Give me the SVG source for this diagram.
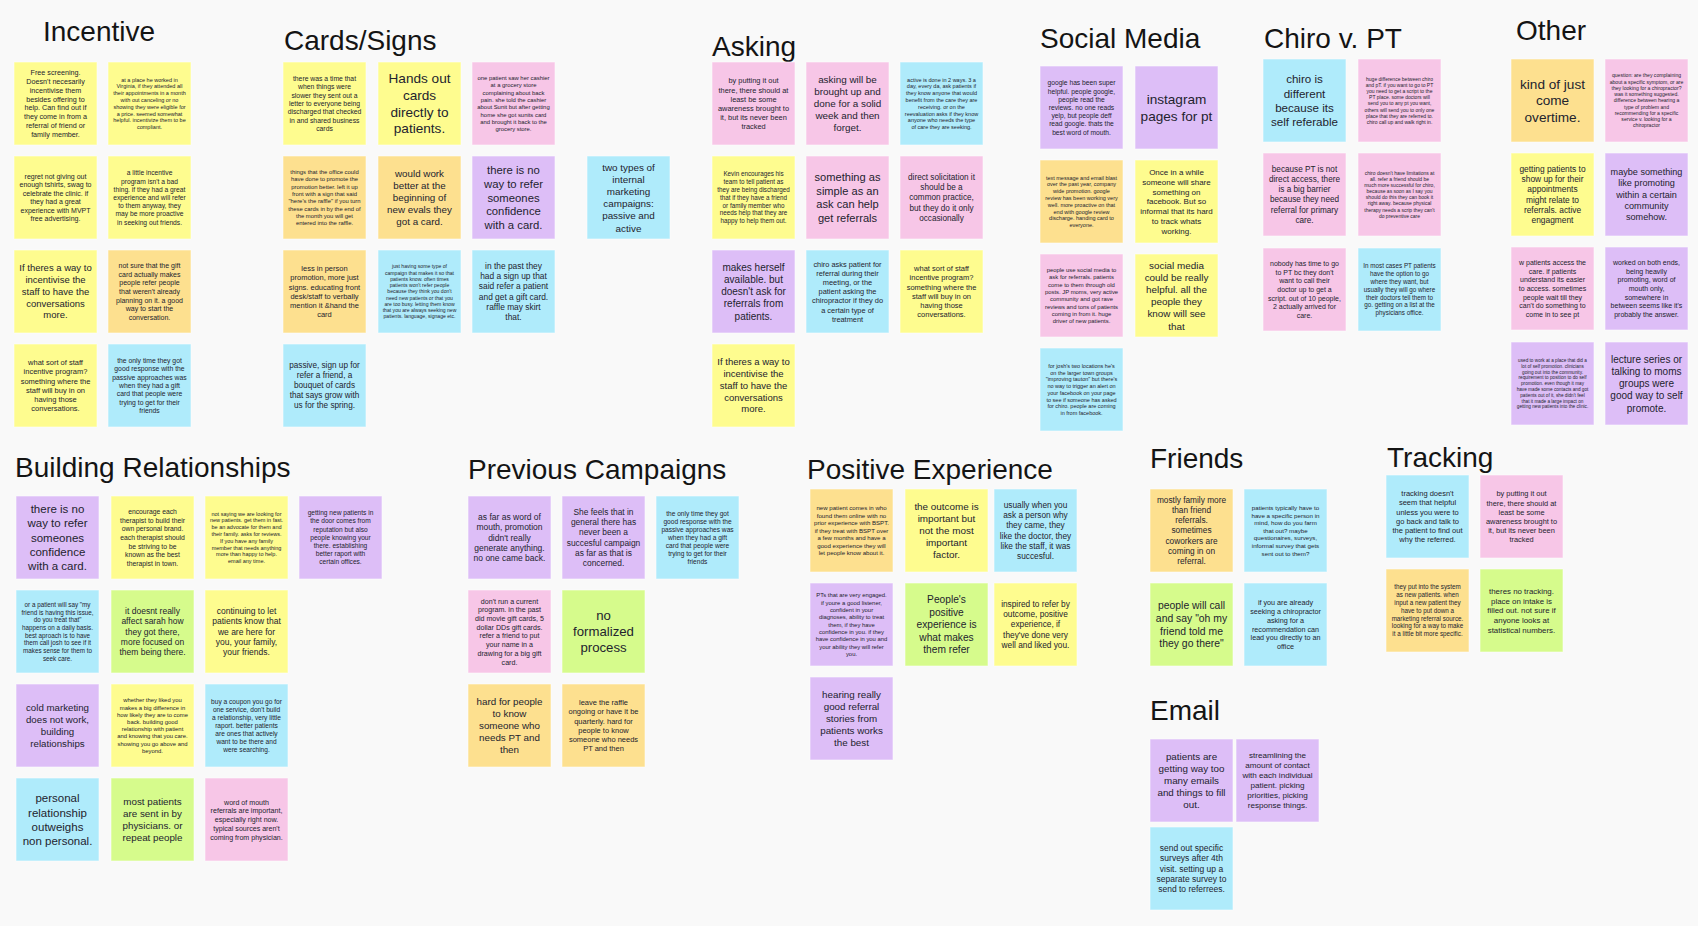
<svg xmlns="http://www.w3.org/2000/svg" width="1698" height="926" viewBox="0 0 1698 926">
<style>
.y{fill:#FEFC8F}.o{fill:#FDE08F}.p{fill:#F7C6E7}.v{fill:#DDBEF7}.b{fill:#AFEBFB}.g{fill:#D6FB8C}
rect{stroke:#ffffff;stroke-opacity:0.55;stroke-width:1}
.t{font-family:"Liberation Sans",Arial,sans-serif;fill:#23232e;text-anchor:middle}
.h{font-family:"Liberation Sans",Arial,sans-serif;fill:#141414;font-size:28px}
</style>
<rect x="0" y="0" width="1698" height="926" fill="#F9F9F9" style="stroke:none"/>
<g id="titles">
<text class="h" x="43" y="41">Incentive</text>
<text class="h" x="284" y="50">Cards/Signs</text>
<text class="h" x="712" y="56">Asking</text>
<text class="h" x="1040" y="48">Social Media</text>
<text class="h" x="1264" y="48">Chiro v. PT</text>
<text class="h" x="1516" y="40">Other</text>
<text class="h" x="15" y="477">Building Relationships</text>
<text class="h" x="468" y="479">Previous Campaigns</text>
<text class="h" x="807" y="479">Positive Experience</text>
<text class="h" x="1150" y="468">Friends</text>
<text class="h" x="1387" y="467">Tracking</text>
<text class="h" x="1150" y="720">Email</text>
</g>
<g id="connectors"></g>

<!-- Incentive -->
<g id="inc1"><rect class="y" x="14" y="62" width="83" height="83"/><text class="t" font-size="7.2" y="75.2"><tspan x="55.5">Free screening.</tspan><tspan x="55.5" dy="8.8">Doesn't necesarily</tspan><tspan x="55.5" dy="8.8">incentivise them</tspan><tspan x="55.5" dy="8.8">besides offering to</tspan><tspan x="55.5" dy="8.8">help. Can find out if</tspan><tspan x="55.5" dy="8.8">they come in from a</tspan><tspan x="55.5" dy="8.8">referral of friend or</tspan><tspan x="55.5" dy="8.8">family member.</tspan></text></g>
<g id="inc2"><rect class="y" x="108" y="62" width="83" height="83"/><text class="t" font-size="5.5" y="81.6"><tspan x="149.5">at a place he worked in</tspan><tspan x="149.5" dy="6.8">Virginia, if they attended all</tspan><tspan x="149.5" dy="6.8">their appointments in a month</tspan><tspan x="149.5" dy="6.8">with out canceling or no</tspan><tspan x="149.5" dy="6.8">showing they were eligible for</tspan><tspan x="149.5" dy="6.8">a price. seemed somewhat</tspan><tspan x="149.5" dy="6.8">helpful. incentivize them to be</tspan><tspan x="149.5" dy="6.8">compliant.</tspan></text></g>
<g id="inc3"><rect class="y" x="14" y="156" width="83" height="83"/><text class="t" font-size="7" y="178.7"><tspan x="55.5">regret not giving out</tspan><tspan x="55.5" dy="8.5">enough tshirts, swag to</tspan><tspan x="55.5" dy="8.5">celebrate the clinic. if</tspan><tspan x="55.5" dy="8.5">they had a great</tspan><tspan x="55.5" dy="8.5">experience with MVPT</tspan><tspan x="55.5" dy="8.5">free advertising.</tspan></text></g>
<g id="inc4"><rect class="y" x="108" y="156" width="83" height="83"/><text class="t" font-size="6.7" y="175.3"><tspan x="149.5">a little incentive</tspan><tspan x="149.5" dy="8.2">program isn't a bad</tspan><tspan x="149.5" dy="8.2">thing. if they had a great</tspan><tspan x="149.5" dy="8.2">experience and will refer</tspan><tspan x="149.5" dy="8.2">to them anyway, they</tspan><tspan x="149.5" dy="8.2">may be more proactive</tspan><tspan x="149.5" dy="8.2">in seeking out friends.</tspan></text></g>
<g id="inc5"><rect class="y" x="14" y="250" width="83" height="83"/><text class="t" font-size="9.5" y="271.4"><tspan x="55.5">If theres a way to</tspan><tspan x="55.5" dy="11.7">incentivise the</tspan><tspan x="55.5" dy="11.7">staff to have the</tspan><tspan x="55.5" dy="11.7">conversations</tspan><tspan x="55.5" dy="11.7">more.</tspan></text></g>
<g id="inc6"><rect class="o" x="108" y="250" width="83" height="83"/><text class="t" font-size="7" y="267.9"><tspan x="149.5">not sure that the gift</tspan><tspan x="149.5" dy="8.7">card actually makes</tspan><tspan x="149.5" dy="8.7">people refer people</tspan><tspan x="149.5" dy="8.7">that weren't already</tspan><tspan x="149.5" dy="8.7">planning on it. a good</tspan><tspan x="149.5" dy="8.7">way to start the</tspan><tspan x="149.5" dy="8.7">conversation.</tspan></text></g>
<g id="inc7"><rect class="y" x="14" y="344" width="83" height="83"/><text class="t" font-size="7.5" y="365.1"><tspan x="55.5">what sort of staff</tspan><tspan x="55.5" dy="9.2">incentive program?</tspan><tspan x="55.5" dy="9.2">something where the</tspan><tspan x="55.5" dy="9.2">staff will buy in on</tspan><tspan x="55.5" dy="9.2">having those</tspan><tspan x="55.5" dy="9.2">conversations.</tspan></text></g>
<g id="inc8"><rect class="b" x="108" y="344" width="83" height="83"/><text class="t" font-size="6.8" y="363"><tspan x="149.5">the only time they got</tspan><tspan x="149.5" dy="8.3">good response with the</tspan><tspan x="149.5" dy="8.3">passive approaches was</tspan><tspan x="149.5" dy="8.3">when they had a gift</tspan><tspan x="149.5" dy="8.3">card that people were</tspan><tspan x="149.5" dy="8.3">trying to get for their</tspan><tspan x="149.5" dy="8.3">friends</tspan></text></g>

<!-- Cards/Signs -->
<g id="card1"><rect class="y" x="283" y="62" width="83" height="83"/><text class="t" font-size="6.8" y="81"><tspan x="324.5">there was a time that</tspan><tspan x="324.5" dy="8.3">when things were</tspan><tspan x="324.5" dy="8.3">slower they sent out a</tspan><tspan x="324.5" dy="8.3">letter to everyone being</tspan><tspan x="324.5" dy="8.3">discharged that checked</tspan><tspan x="324.5" dy="8.3">in and shared business</tspan><tspan x="324.5" dy="8.3">cards</tspan></text></g>
<g id="card2"><rect class="y" x="378" y="62" width="83" height="83"/><text class="t" font-size="13.6" y="83.2"><tspan x="419.5">Hands out</tspan><tspan x="419.5" dy="16.7">cards</tspan><tspan x="419.5" dy="16.7">directly to</tspan><tspan x="419.5" dy="16.7">patients.</tspan></text></g>
<g id="card3"><rect class="p" x="472" y="62" width="83" height="83"/><text class="t" font-size="5.9" y="80"><tspan x="513.5">one patient saw her cashier</tspan><tspan x="513.5" dy="7.3">at a grocery store</tspan><tspan x="513.5" dy="7.3">complaining about back</tspan><tspan x="513.5" dy="7.3">pain. she told the cashier</tspan><tspan x="513.5" dy="7.3">about Sunit but after getting</tspan><tspan x="513.5" dy="7.3">home she got sunits card</tspan><tspan x="513.5" dy="7.3">and brought it back to the</tspan><tspan x="513.5" dy="7.3">grocery store.</tspan></text></g>
<g id="card4"><rect class="o" x="283" y="156" width="83" height="83"/><text class="t" font-size="5.9" y="174"><tspan x="324.5">things that the office could</tspan><tspan x="324.5" dy="7.3">have done to promote the</tspan><tspan x="324.5" dy="7.3">promotion better. left it up</tspan><tspan x="324.5" dy="7.3">front with a sign that said</tspan><tspan x="324.5" dy="7.3">"here's the raffle" if you turn</tspan><tspan x="324.5" dy="7.3">these cards in by the end of</tspan><tspan x="324.5" dy="7.3">the month you will get</tspan><tspan x="324.5" dy="7.3">entered into the raffle.</tspan></text></g>
<g id="card5"><rect class="o" x="378" y="156" width="83" height="83"/><text class="t" font-size="9.8" y="176.9"><tspan x="419.5">would work</tspan><tspan x="419.5" dy="12">better at the</tspan><tspan x="419.5" dy="12">beginning of</tspan><tspan x="419.5" dy="12">new evals they</tspan><tspan x="419.5" dy="12">got a card.</tspan></text></g>
<g id="card6"><rect class="v" x="472" y="156" width="83" height="83"/><text class="t" font-size="11.3" y="173.7"><tspan x="513.5">there is no</tspan><tspan x="513.5" dy="13.9">way to refer</tspan><tspan x="513.5" dy="13.9">someones</tspan><tspan x="513.5" dy="13.9">confidence</tspan><tspan x="513.5" dy="13.9">with a card.</tspan></text></g>
<g id="card7"><rect class="b" x="587" y="156" width="83" height="83"/><text class="t" font-size="9.9" y="170.5"><tspan x="628.5">two types of</tspan><tspan x="628.5" dy="12.2">internal</tspan><tspan x="628.5" dy="12.2">marketing</tspan><tspan x="628.5" dy="12.2">campaigns:</tspan><tspan x="628.5" dy="12.2">passive and</tspan><tspan x="628.5" dy="12.2">active</tspan></text></g>
<g id="card8"><rect class="o" x="283" y="250" width="83" height="83"/><text class="t" font-size="7.5" y="271.1"><tspan x="324.5">less in person</tspan><tspan x="324.5" dy="9.2">promotion, more just</tspan><tspan x="324.5" dy="9.2">signs. educating front</tspan><tspan x="324.5" dy="9.2">desk/staff to verbally</tspan><tspan x="324.5" dy="9.2">mention it &amp;hand the</tspan><tspan x="324.5" dy="9.2">card</tspan></text></g>
<g id="card9"><rect class="b" x="378" y="250" width="83" height="83"/><text class="t" font-size="5.1" y="268.3"><tspan x="419.5">just having some type of</tspan><tspan x="419.5" dy="6.25">campaign that makes it so that</tspan><tspan x="419.5" dy="6.25">patients know. often times</tspan><tspan x="419.5" dy="6.25">patients won't refer people</tspan><tspan x="419.5" dy="6.25">because they think you don't</tspan><tspan x="419.5" dy="6.25">need new patients or that you</tspan><tspan x="419.5" dy="6.25">are too busy. letting them know</tspan><tspan x="419.5" dy="6.25">that you are always seeking new</tspan><tspan x="419.5" dy="6.25">patients. language, signage etc.</tspan></text></g>
<g id="card10"><rect class="b" x="472" y="250" width="83" height="83"/><text class="t" font-size="8.4" y="268.7"><tspan x="513.5">in the past they</tspan><tspan x="513.5" dy="10.3">had a sign up that</tspan><tspan x="513.5" dy="10.3">said refer a patient</tspan><tspan x="513.5" dy="10.3">and get a gift card.</tspan><tspan x="513.5" dy="10.3">raffle may skirt</tspan><tspan x="513.5" dy="10.3">that.</tspan></text></g>
<g id="card11"><rect class="b" x="283" y="344" width="83" height="83"/><text class="t" font-size="8.2" y="368.4"><tspan x="324.5">passive, sign up for</tspan><tspan x="324.5" dy="10">refer a friend, a</tspan><tspan x="324.5" dy="10">bouquet of cards</tspan><tspan x="324.5" dy="10">that says grow with</tspan><tspan x="324.5" dy="10">us for the spring.</tspan></text></g>

<!-- Asking -->
<g id="ask1"><rect class="p" x="712" y="62" width="83" height="83"/><text class="t" font-size="7.4" y="83.4"><tspan x="753.5">by putting it out</tspan><tspan x="753.5" dy="9.1">there, there should at</tspan><tspan x="753.5" dy="9.1">least be some</tspan><tspan x="753.5" dy="9.1">awareness brought to</tspan><tspan x="753.5" dy="9.1">it, but its never been</tspan><tspan x="753.5" dy="9.1">tracked</tspan></text></g>
<g id="ask2"><rect class="p" x="806" y="62" width="83" height="83"/><text class="t" font-size="9.9" y="82.6"><tspan x="847.5">asking will be</tspan><tspan x="847.5" dy="12.2">brought up and</tspan><tspan x="847.5" dy="12.2">done for a solid</tspan><tspan x="847.5" dy="12.2">week and then</tspan><tspan x="847.5" dy="12.2">forget.</tspan></text></g>
<g id="ask3"><rect class="b" x="900" y="62" width="83" height="83"/><text class="t" font-size="5.5" y="81.6"><tspan x="941.5">active is done in 2 ways. 3  a</tspan><tspan x="941.5" dy="6.8">day, every da,  ask patients if</tspan><tspan x="941.5" dy="6.8">they know anyone that would</tspan><tspan x="941.5" dy="6.8">benefit from the care they are</tspan><tspan x="941.5" dy="6.8">receiving. or on the</tspan><tspan x="941.5" dy="6.8">reevaluation asks if they know</tspan><tspan x="941.5" dy="6.8">anyone who needs the type</tspan><tspan x="941.5" dy="6.8">of care they are seeking.</tspan></text></g>
<g id="ask4"><rect class="y" x="712" y="156" width="83" height="83"/><text class="t" font-size="6.3" y="176.3"><tspan x="753.5">Kevin encourages his</tspan><tspan x="753.5" dy="7.8">team to tell patient as</tspan><tspan x="753.5" dy="7.8">they are being discharged</tspan><tspan x="753.5" dy="7.8">that if they have a friend</tspan><tspan x="753.5" dy="7.8">or family member who</tspan><tspan x="753.5" dy="7.8">needs help that they are</tspan><tspan x="753.5" dy="7.8">happy to help them out.</tspan></text></g>
<g id="ask5"><rect class="p" x="806" y="156" width="83" height="83"/><text class="t" font-size="11.1" y="180.9"><tspan x="847.5">something as</tspan><tspan x="847.5" dy="13.7">simple as an</tspan><tspan x="847.5" dy="13.7">ask can help</tspan><tspan x="847.5" dy="13.7">get referrals</tspan></text></g>
<g id="ask6"><rect class="p" x="900" y="156" width="83" height="83"/><text class="t" font-size="8.2" y="180.2"><tspan x="941.5">direct solicitation it</tspan><tspan x="941.5" dy="10.1">should be a</tspan><tspan x="941.5" dy="10.1">common practice,</tspan><tspan x="941.5" dy="10.1">but they do it only</tspan><tspan x="941.5" dy="10.1">occasionally</tspan></text></g>
<g id="ask7"><rect class="v" x="712" y="250" width="83" height="83"/><text class="t" font-size="10" y="270.5"><tspan x="753.5">makes herself</tspan><tspan x="753.5" dy="12.25">available. but</tspan><tspan x="753.5" dy="12.25">doesn't ask for</tspan><tspan x="753.5" dy="12.25">referrals from</tspan><tspan x="753.5" dy="12.25">patients.</tspan></text></g>
<g id="ask8"><rect class="b" x="806" y="250" width="83" height="83"/><text class="t" font-size="7.4" y="266.5"><tspan x="847.5">chiro asks patient for</tspan><tspan x="847.5" dy="9.2">referral during their</tspan><tspan x="847.5" dy="9.2">meeting, or the</tspan><tspan x="847.5" dy="9.2">patient asking the</tspan><tspan x="847.5" dy="9.2">chiropractor if they do</tspan><tspan x="847.5" dy="9.2">a certain type of</tspan><tspan x="847.5" dy="9.2">treatment</tspan></text></g>
<g id="ask9"><rect class="y" x="900" y="250" width="83" height="83"/><text class="t" font-size="7.5" y="271.1"><tspan x="941.5">what sort of staff</tspan><tspan x="941.5" dy="9.2">incentive program?</tspan><tspan x="941.5" dy="9.2">something where the</tspan><tspan x="941.5" dy="9.2">staff will buy in on</tspan><tspan x="941.5" dy="9.2">having those</tspan><tspan x="941.5" dy="9.2">conversations.</tspan></text></g>
<g id="ask10"><rect class="y" x="712" y="344" width="83" height="83"/><text class="t" font-size="9.5" y="365.4"><tspan x="753.5">If theres a way to</tspan><tspan x="753.5" dy="11.7">incentivise the</tspan><tspan x="753.5" dy="11.7">staff to have the</tspan><tspan x="753.5" dy="11.7">conversations</tspan><tspan x="753.5" dy="11.7">more.</tspan></text></g>

<!-- Social Media -->
<g id="soc1"><rect class="v" x="1040" y="66" width="83" height="83"/><text class="t" font-size="6.7" y="85.3"><tspan x="1081.5">google has been super</tspan><tspan x="1081.5" dy="8.2">helpful. people google,</tspan><tspan x="1081.5" dy="8.2">people read the</tspan><tspan x="1081.5" dy="8.2">reviews. no one reads</tspan><tspan x="1081.5" dy="8.2">yelp, but people deff</tspan><tspan x="1081.5" dy="8.2">read google. thats the</tspan><tspan x="1081.5" dy="8.2">best word of mouth.</tspan></text></g>
<g id="soc2"><rect class="v" x="1135" y="66" width="83" height="83"/><text class="t" font-size="13.6" y="103.9"><tspan x="1176.5">instagram</tspan><tspan x="1176.5" dy="16.7">pages for pt</tspan></text></g>
<g id="soc3"><rect class="o" x="1040" y="160" width="83" height="83"/><text class="t" font-size="5.5" y="179.6"><tspan x="1081.5">text message and email blast</tspan><tspan x="1081.5" dy="6.8">over the past year, company</tspan><tspan x="1081.5" dy="6.8">wide promotion. google</tspan><tspan x="1081.5" dy="6.8">review has been working very</tspan><tspan x="1081.5" dy="6.8">well. more proactive on that</tspan><tspan x="1081.5" dy="6.8">end with google review</tspan><tspan x="1081.5" dy="6.8">discharge. handing card to</tspan><tspan x="1081.5" dy="6.8">everyone.</tspan></text></g>
<g id="soc4"><rect class="y" x="1135" y="160" width="83" height="83"/><text class="t" font-size="8" y="174.9"><tspan x="1176.5">Once in a while</tspan><tspan x="1176.5" dy="9.8">someone will share</tspan><tspan x="1176.5" dy="9.8">something on</tspan><tspan x="1176.5" dy="9.8">facebook. But so</tspan><tspan x="1176.5" dy="9.8">informal that its hard</tspan><tspan x="1176.5" dy="9.8">to track whats</tspan><tspan x="1176.5" dy="9.8">working.</tspan></text></g>
<g id="soc5"><rect class="p" x="1040" y="254" width="83" height="83"/><text class="t" font-size="5.9" y="272"><tspan x="1081.5">people use social media to</tspan><tspan x="1081.5" dy="7.3">ask for referrals. patients</tspan><tspan x="1081.5" dy="7.3">come to them through old</tspan><tspan x="1081.5" dy="7.3">posts. JP moms, very active</tspan><tspan x="1081.5" dy="7.3">community and got rave</tspan><tspan x="1081.5" dy="7.3">reviews and tons of patients</tspan><tspan x="1081.5" dy="7.3">coming in from it. huge</tspan><tspan x="1081.5" dy="7.3">driver of new patients.</tspan></text></g>
<g id="soc6"><rect class="y" x="1135" y="254" width="83" height="83"/><text class="t" font-size="9.9" y="268.5"><tspan x="1176.5">social media</tspan><tspan x="1176.5" dy="12.2">could be really</tspan><tspan x="1176.5" dy="12.2">helpful. all the</tspan><tspan x="1176.5" dy="12.2">people they</tspan><tspan x="1176.5" dy="12.2">know will see</tspan><tspan x="1176.5" dy="12.2">that</tspan></text></g>
<g id="soc7"><rect class="b" x="1040" y="348" width="83" height="83"/><text class="t" font-size="5.5" y="368"><tspan x="1081.5">for josh's two locations he's</tspan><tspan x="1081.5" dy="6.7">on the larger town groups</tspan><tspan x="1081.5" dy="6.7">"improving tauton" but there's</tspan><tspan x="1081.5" dy="6.7">no way to trigger an alert on</tspan><tspan x="1081.5" dy="6.7">your facebook on your page</tspan><tspan x="1081.5" dy="6.7">to see if someone has asked</tspan><tspan x="1081.5" dy="6.7">for chiro. people are coming</tspan><tspan x="1081.5" dy="6.7">in from facebook.</tspan></text></g>

<!-- Chiro v. PT -->
<g id="chiro1"><rect class="b" x="1263" y="59" width="83" height="83"/><text class="t" font-size="11.6" y="83.3"><tspan x="1304.5">chiro is</tspan><tspan x="1304.5" dy="14.2">different</tspan><tspan x="1304.5" dy="14.2">because its</tspan><tspan x="1304.5" dy="14.2">self referable</tspan></text></g>
<g id="chiro2"><rect class="p" x="1358" y="59" width="83" height="83"/><text class="t" font-size="5" y="80.6"><tspan x="1399.5">huge difference between chiro</tspan><tspan x="1399.5" dy="6.2">and pT. if you want to go to PT</tspan><tspan x="1399.5" dy="6.2">you need to get a script to the</tspan><tspan x="1399.5" dy="6.2">PT place. some doctors will</tspan><tspan x="1399.5" dy="6.2">send you to any pt you want,</tspan><tspan x="1399.5" dy="6.2">others will send you to only one</tspan><tspan x="1399.5" dy="6.2">place that they are referred to.</tspan><tspan x="1399.5" dy="6.2">chiro call up and walk right in.</tspan></text></g>
<g id="chiro3"><rect class="p" x="1263" y="153" width="83" height="83"/><text class="t" font-size="8.2" y="172.1"><tspan x="1304.5">because PT is not</tspan><tspan x="1304.5" dy="10.1">direct access, there</tspan><tspan x="1304.5" dy="10.1">is a big barrier</tspan><tspan x="1304.5" dy="10.1">because they need</tspan><tspan x="1304.5" dy="10.1">referral for primary</tspan><tspan x="1304.5" dy="10.1">care.</tspan></text></g>
<g id="chiro4"><rect class="p" x="1358" y="153" width="83" height="83"/><text class="t" font-size="5" y="174.9"><tspan x="1399.5">chiro doesn't have limitations at</tspan><tspan x="1399.5" dy="6.1">all. refer a friend should be</tspan><tspan x="1399.5" dy="6.1">much more successful for chiro,</tspan><tspan x="1399.5" dy="6.1">because as soon as I say you</tspan><tspan x="1399.5" dy="6.1">should do this they can book it</tspan><tspan x="1399.5" dy="6.1">right away. because physical</tspan><tspan x="1399.5" dy="6.1">therapy needs a scrip they can't</tspan><tspan x="1399.5" dy="6.1">do preventive care</tspan></text></g>
<g id="chiro5"><rect class="p" x="1263" y="248" width="83" height="83"/><text class="t" font-size="7" y="266.2"><tspan x="1304.5">nobody has time to go</tspan><tspan x="1304.5" dy="8.6">to PT bc they don't</tspan><tspan x="1304.5" dy="8.6">want to call their</tspan><tspan x="1304.5" dy="8.6">doctor up to get a</tspan><tspan x="1304.5" dy="8.6">script. out of 10 people,</tspan><tspan x="1304.5" dy="8.6">2 actually arrived for</tspan><tspan x="1304.5" dy="8.6">care.</tspan></text></g>
<g id="chiro6"><rect class="b" x="1358" y="248" width="83" height="83"/><text class="t" font-size="6.3" y="268.3"><tspan x="1399.5">In most cases PT patients</tspan><tspan x="1399.5" dy="7.8">have the option to go</tspan><tspan x="1399.5" dy="7.8">where they want, but</tspan><tspan x="1399.5" dy="7.8">usually they will go where</tspan><tspan x="1399.5" dy="7.8">their doctors tell them to</tspan><tspan x="1399.5" dy="7.8">go. getting on a list at the</tspan><tspan x="1399.5" dy="7.8">physicians office.</tspan></text></g>

<!-- Other -->
<g id="other1"><rect class="o" x="1511" y="59" width="83" height="83"/><text class="t" font-size="13.6" y="88.6"><tspan x="1552.5">kind of just</tspan><tspan x="1552.5" dy="16.7">come</tspan><tspan x="1552.5" dy="16.7">overtime.</tspan></text></g>
<g id="other2"><rect class="p" x="1605" y="59" width="83" height="83"/><text class="t" font-size="5.1" y="77.3"><tspan x="1646.5">question: are they complaining</tspan><tspan x="1646.5" dy="6.25">about a specific symptom, or are</tspan><tspan x="1646.5" dy="6.25">they looking for a chiropractor?</tspan><tspan x="1646.5" dy="6.25">was it something suggested.</tspan><tspan x="1646.5" dy="6.25">difference between hearing a</tspan><tspan x="1646.5" dy="6.25">type of problem and</tspan><tspan x="1646.5" dy="6.25">recommending for a specific</tspan><tspan x="1646.5" dy="6.25">service v. looking for a</tspan><tspan x="1646.5" dy="6.25">chiropractor</tspan></text></g>
<g id="other3"><rect class="y" x="1511" y="153" width="83" height="83"/><text class="t" font-size="8.4" y="171.7"><tspan x="1552.5">getting patients to</tspan><tspan x="1552.5" dy="10.3">show up for their</tspan><tspan x="1552.5" dy="10.3">appointments</tspan><tspan x="1552.5" dy="10.3">might relate to</tspan><tspan x="1552.5" dy="10.3">referrals. active</tspan><tspan x="1552.5" dy="10.3">engagment</tspan></text></g>
<g id="other4"><rect class="v" x="1605" y="153" width="83" height="83"/><text class="t" font-size="9.1" y="175.2"><tspan x="1646.5">maybe something</tspan><tspan x="1646.5" dy="11.25">like promoting</tspan><tspan x="1646.5" dy="11.25">within a certain</tspan><tspan x="1646.5" dy="11.25">community</tspan><tspan x="1646.5" dy="11.25">somehow.</tspan></text></g>
<g id="other5"><rect class="p" x="1511" y="247" width="83" height="83"/><text class="t" font-size="7" y="265.2"><tspan x="1552.5">w patients access the</tspan><tspan x="1552.5" dy="8.6">care. if patients</tspan><tspan x="1552.5" dy="8.6">understand its easier</tspan><tspan x="1552.5" dy="8.6">to access. sometimes</tspan><tspan x="1552.5" dy="8.6">people wait till they</tspan><tspan x="1552.5" dy="8.6">can't do something to</tspan><tspan x="1552.5" dy="8.6">come in to see pt</tspan></text></g>
<g id="other6"><rect class="v" x="1605" y="247" width="83" height="83"/><text class="t" font-size="7" y="265.2"><tspan x="1646.5">worked on both ends,</tspan><tspan x="1646.5" dy="8.6">being heavily</tspan><tspan x="1646.5" dy="8.6">promoting, word of</tspan><tspan x="1646.5" dy="8.6">mouth only,</tspan><tspan x="1646.5" dy="8.6">somewhere in</tspan><tspan x="1646.5" dy="8.6">between seems like it's</tspan><tspan x="1646.5" dy="8.6">probably the answer.</tspan></text></g>
<g id="other7"><rect class="v" x="1511" y="342" width="83" height="83"/><text class="t" font-size="4.7" y="362"><tspan x="1552.5">used to work at a place that did a</tspan><tspan x="1552.5" dy="5.8">lot of self promotion. clinicians</tspan><tspan x="1552.5" dy="5.8">going out into the community.</tspan><tspan x="1552.5" dy="5.8">requirement to position to do self</tspan><tspan x="1552.5" dy="5.8">promotion. even though it may</tspan><tspan x="1552.5" dy="5.8">have made some contacts and got</tspan><tspan x="1552.5" dy="5.8">patients out of it, she didn't feel</tspan><tspan x="1552.5" dy="5.8">that it made a large impact on</tspan><tspan x="1552.5" dy="5.8">getting new patients into the clinic.</tspan></text></g>
<g id="other8"><rect class="v" x="1605" y="342" width="83" height="83"/><text class="t" font-size="10" y="362.5"><tspan x="1646.5">lecture series or</tspan><tspan x="1646.5" dy="12.25">talking to moms</tspan><tspan x="1646.5" dy="12.25">groups were</tspan><tspan x="1646.5" dy="12.25">good way to self</tspan><tspan x="1646.5" dy="12.25">promote.</tspan></text></g>

<!-- Building Relationships -->
<g id="build1"><rect class="v" x="16" y="496" width="83" height="83"/><text class="t" font-size="11.5" y="513.1"><tspan x="57.5">there is no</tspan><tspan x="57.5" dy="14.2">way to refer</tspan><tspan x="57.5" dy="14.2">someones</tspan><tspan x="57.5" dy="14.2">confidence</tspan><tspan x="57.5" dy="14.2">with a card.</tspan></text></g>
<g id="build2"><rect class="y" x="111" y="496" width="83" height="83"/><text class="t" font-size="6.8" y="513.8"><tspan x="152.5">encourage each</tspan><tspan x="152.5" dy="8.7">therapist to build their</tspan><tspan x="152.5" dy="8.7">own personal brand.</tspan><tspan x="152.5" dy="8.7">each therapist should</tspan><tspan x="152.5" dy="8.7">be striving to be</tspan><tspan x="152.5" dy="8.7">known as the best</tspan><tspan x="152.5" dy="8.7">therapist in town.</tspan></text></g>
<g id="build3"><rect class="y" x="205" y="496" width="83" height="83"/><text class="t" font-size="5.5" y="515.6"><tspan x="246.5">not saying we are looking for</tspan><tspan x="246.5" dy="6.8">new patients. get them in fast.</tspan><tspan x="246.5" dy="6.8">be an advocate for them and</tspan><tspan x="246.5" dy="6.8">their family. asks for reviews.</tspan><tspan x="246.5" dy="6.8">If you have any family</tspan><tspan x="246.5" dy="6.8">member that needs anything</tspan><tspan x="246.5" dy="6.8">more than happy to help.</tspan><tspan x="246.5" dy="6.8">email any time.</tspan></text></g>
<g id="build4"><rect class="v" x="299" y="496" width="83" height="83"/><text class="t" font-size="6.6" y="515.2"><tspan x="340.5">getting new patients in</tspan><tspan x="340.5" dy="8.2">the door comes from</tspan><tspan x="340.5" dy="8.2">reputation but also</tspan><tspan x="340.5" dy="8.2">people knowing your</tspan><tspan x="340.5" dy="8.2">there. establishing</tspan><tspan x="340.5" dy="8.2">better raport with</tspan><tspan x="340.5" dy="8.2">certain offices.</tspan></text></g>
<g id="build5"><rect class="b" x="16" y="590" width="83" height="83"/><text class="t" font-size="6.3" y="606.8"><tspan x="57.5">or a patient will say "my</tspan><tspan x="57.5" dy="7.7">friend is having this issue,</tspan><tspan x="57.5" dy="7.7">do you treat that"</tspan><tspan x="57.5" dy="7.7">happens on a daily basis.</tspan><tspan x="57.5" dy="7.7">best aproach is to have</tspan><tspan x="57.5" dy="7.7">them call josh to see if it</tspan><tspan x="57.5" dy="7.7">makes sense for them to</tspan><tspan x="57.5" dy="7.7">seek care.</tspan></text></g>
<g id="build6"><rect class="g" x="111" y="590" width="83" height="83"/><text class="t" font-size="8.5" y="613.7"><tspan x="152.5">it doesnt really</tspan><tspan x="152.5" dy="10.4">affect sarah how</tspan><tspan x="152.5" dy="10.4">they got there,</tspan><tspan x="152.5" dy="10.4">more focused on</tspan><tspan x="152.5" dy="10.4">them being there.</tspan></text></g>
<g id="build7"><rect class="y" x="205" y="590" width="83" height="83"/><text class="t" font-size="8.5" y="613.7"><tspan x="246.5">continuing to let</tspan><tspan x="246.5" dy="10.4">patients know that</tspan><tspan x="246.5" dy="10.4">we are here for</tspan><tspan x="246.5" dy="10.4">you, your family,</tspan><tspan x="246.5" dy="10.4">your friends.</tspan></text></g>
<g id="build8"><rect class="v" x="16" y="684" width="83" height="83"/><text class="t" font-size="9.7" y="711.1"><tspan x="57.5">cold marketing</tspan><tspan x="57.5" dy="11.9">does not work,</tspan><tspan x="57.5" dy="11.9">building</tspan><tspan x="57.5" dy="11.9">relationships</tspan></text></g>
<g id="build9"><rect class="y" x="111" y="684" width="83" height="83"/><text class="t" font-size="5.9" y="702.4"><tspan x="152.5">whether they liked you</tspan><tspan x="152.5" dy="7.2">makes a big difference in</tspan><tspan x="152.5" dy="7.2">how likely they are to come</tspan><tspan x="152.5" dy="7.2">back. building good</tspan><tspan x="152.5" dy="7.2">relationship with patient</tspan><tspan x="152.5" dy="7.2">and knowing that you care.</tspan><tspan x="152.5" dy="7.2">showing you go above and</tspan><tspan x="152.5" dy="7.2">beyond.</tspan></text></g>
<g id="build10"><rect class="b" x="205" y="684" width="83" height="83"/><text class="t" font-size="6.6" y="703.5"><tspan x="246.5">buy a coupon you go for</tspan><tspan x="246.5" dy="8.1">one service, don't build</tspan><tspan x="246.5" dy="8.1">a relationship, very little</tspan><tspan x="246.5" dy="8.1">raport. better patients</tspan><tspan x="246.5" dy="8.1">are ones that actively</tspan><tspan x="246.5" dy="8.1">want to be there and</tspan><tspan x="246.5" dy="8.1">were searching.</tspan></text></g>
<g id="build11"><rect class="b" x="16" y="778" width="83" height="83"/><text class="t" font-size="11.5" y="802.4"><tspan x="57.5">personal</tspan><tspan x="57.5" dy="14.1">relationship</tspan><tspan x="57.5" dy="14.1">outweighs</tspan><tspan x="57.5" dy="14.1">non personal.</tspan></text></g>
<g id="build12"><rect class="g" x="111" y="778" width="83" height="83"/><text class="t" font-size="9.8" y="804.9"><tspan x="152.5">most patients</tspan><tspan x="152.5" dy="12">are sent in by</tspan><tspan x="152.5" dy="12">physicians. or</tspan><tspan x="152.5" dy="12">repeat people</tspan></text></g>
<g id="build13"><rect class="p" x="205" y="778" width="83" height="83"/><text class="t" font-size="7.1" y="804.5"><tspan x="246.5">word of mouth</tspan><tspan x="246.5" dy="8.75">referrals are important,</tspan><tspan x="246.5" dy="8.75">especially right now.</tspan><tspan x="246.5" dy="8.75">typical sources aren't</tspan><tspan x="246.5" dy="8.75">coming from physician.</tspan></text></g>

<!-- Previous Campaigns -->
<g id="prev1"><rect class="v" x="468" y="496" width="83" height="83"/><text class="t" font-size="8.5" y="519.7"><tspan x="509.5">as far as word of</tspan><tspan x="509.5" dy="10.4">mouth, promotion</tspan><tspan x="509.5" dy="10.4">didn't really</tspan><tspan x="509.5" dy="10.4">generate anything.</tspan><tspan x="509.5" dy="10.4">no one came back.</tspan></text></g>
<g id="prev2"><rect class="v" x="562" y="496" width="83" height="83"/><text class="t" font-size="8.4" y="514.7"><tspan x="603.5">She feels that in</tspan><tspan x="603.5" dy="10.3">general there has</tspan><tspan x="603.5" dy="10.3">never been a</tspan><tspan x="603.5" dy="10.3">succesful campaign</tspan><tspan x="603.5" dy="10.3">as far as that is</tspan><tspan x="603.5" dy="10.3">concerned.</tspan></text></g>
<g id="prev3"><rect class="b" x="656" y="496" width="83" height="83"/><text class="t" font-size="6.6" y="515.5"><tspan x="697.5">the only time they got</tspan><tspan x="697.5" dy="8.1">good response with the</tspan><tspan x="697.5" dy="8.1">passive approaches was</tspan><tspan x="697.5" dy="8.1">when they had a gift</tspan><tspan x="697.5" dy="8.1">card that people were</tspan><tspan x="697.5" dy="8.1">trying to get for their</tspan><tspan x="697.5" dy="8.1">friends</tspan></text></g>
<g id="prev4"><rect class="p" x="468" y="590" width="83" height="83"/><text class="t" font-size="7.1" y="603.6"><tspan x="509.5">don't run a current</tspan><tspan x="509.5" dy="8.7">program. in the past</tspan><tspan x="509.5" dy="8.7">did movie gift cards, 5</tspan><tspan x="509.5" dy="8.7">dollar DDs gift cards.</tspan><tspan x="509.5" dy="8.7">refer a friend to put</tspan><tspan x="509.5" dy="8.7">your name in a</tspan><tspan x="509.5" dy="8.7">drawing for a big gift</tspan><tspan x="509.5" dy="8.7">card.</tspan></text></g>
<g id="prev5"><rect class="g" x="562" y="590" width="83" height="83"/><text class="t" font-size="13.2" y="619.9"><tspan x="603.5">no</tspan><tspan x="603.5" dy="16.2">formalized</tspan><tspan x="603.5" dy="16.2">process</tspan></text></g>
<g id="prev6"><rect class="o" x="468" y="684" width="83" height="83"/><text class="t" font-size="9.8" y="704.9"><tspan x="509.5">hard for people</tspan><tspan x="509.5" dy="12">to know</tspan><tspan x="509.5" dy="12">someone who</tspan><tspan x="509.5" dy="12">needs PT and</tspan><tspan x="509.5" dy="12">then</tspan></text></g>
<g id="prev7"><rect class="o" x="562" y="684" width="83" height="83"/><text class="t" font-size="7.5" y="705.1"><tspan x="603.5">leave the raffle</tspan><tspan x="603.5" dy="9.2">ongoing or have it be</tspan><tspan x="603.5" dy="9.2">quarterly. hard for</tspan><tspan x="603.5" dy="9.2">people to know</tspan><tspan x="603.5" dy="9.2">someone who needs</tspan><tspan x="603.5" dy="9.2">PT and then</tspan></text></g>

<!-- Positive Experience -->
<g id="pos1"><rect class="o" x="810" y="489" width="83" height="83"/><text class="t" font-size="6.1" y="510.1"><tspan x="851.5">new patient comes in who</tspan><tspan x="851.5" dy="7.5">found them online with no</tspan><tspan x="851.5" dy="7.5">prior experience with BSPT.</tspan><tspan x="851.5" dy="7.5">if they treat with BSPT over</tspan><tspan x="851.5" dy="7.5">a few months and have a</tspan><tspan x="851.5" dy="7.5">good experience they will</tspan><tspan x="851.5" dy="7.5">let people know about it.</tspan></text></g>
<g id="pos2"><rect class="y" x="905" y="489" width="83" height="83"/><text class="t" font-size="9.9" y="509.6"><tspan x="946.5">the outcome is</tspan><tspan x="946.5" dy="12.2">important but</tspan><tspan x="946.5" dy="12.2">not the most</tspan><tspan x="946.5" dy="12.2">important</tspan><tspan x="946.5" dy="12.2">factor.</tspan></text></g>
<g id="pos3"><rect class="b" x="994" y="489" width="83" height="83"/><text class="t" font-size="8.3" y="507.9"><tspan x="1035.5">usually when you</tspan><tspan x="1035.5" dy="10.2">ask a person why</tspan><tspan x="1035.5" dy="10.2">they came, they</tspan><tspan x="1035.5" dy="10.2">like the doctor, they</tspan><tspan x="1035.5" dy="10.2">like the staff, it was</tspan><tspan x="1035.5" dy="10.2">succesful.</tspan></text></g>
<g id="pos4"><rect class="v" x="810" y="583" width="83" height="83"/><text class="t" font-size="5.9" y="597.4"><tspan x="851.5">PTs that are very engaged.</tspan><tspan x="851.5" dy="7.3">if youre a good listener,</tspan><tspan x="851.5" dy="7.3">confident in your</tspan><tspan x="851.5" dy="7.3">diagnoses, ability to treat</tspan><tspan x="851.5" dy="7.3">them, if they have</tspan><tspan x="851.5" dy="7.3">confidence in you. if they</tspan><tspan x="851.5" dy="7.3">have confidence in you and</tspan><tspan x="851.5" dy="7.3">your ability they will refer</tspan><tspan x="851.5" dy="7.3">you.</tspan></text></g>
<g id="pos5"><rect class="g" x="905" y="583" width="83" height="83"/><text class="t" font-size="10.2" y="602.9"><tspan x="946.5">People's</tspan><tspan x="946.5" dy="12.6">positive</tspan><tspan x="946.5" dy="12.6">experience is</tspan><tspan x="946.5" dy="12.6">what makes</tspan><tspan x="946.5" dy="12.6">them refer</tspan></text></g>
<g id="pos6"><rect class="y" x="994" y="583" width="83" height="83"/><text class="t" font-size="8.3" y="606.9"><tspan x="1035.5">inspired to refer by</tspan><tspan x="1035.5" dy="10.25">outcome, positive</tspan><tspan x="1035.5" dy="10.25">experience, if</tspan><tspan x="1035.5" dy="10.25">they've done very</tspan><tspan x="1035.5" dy="10.25">well and liked you.</tspan></text></g>
<g id="pos7"><rect class="v" x="810" y="677" width="83" height="83"/><text class="t" font-size="9.8" y="697.9"><tspan x="851.5">hearing really</tspan><tspan x="851.5" dy="12">good referral</tspan><tspan x="851.5" dy="12">stories from</tspan><tspan x="851.5" dy="12">patients works</tspan><tspan x="851.5" dy="12">the best</tspan></text></g>

<!-- Friends -->
<g id="friend1"><rect class="o" x="1150" y="489" width="83" height="83"/><text class="t" font-size="8.3" y="502.8"><tspan x="1191.5">mostly family more</tspan><tspan x="1191.5" dy="10.2">than friend</tspan><tspan x="1191.5" dy="10.2">referrals.</tspan><tspan x="1191.5" dy="10.2">sometimes</tspan><tspan x="1191.5" dy="10.2">coworkers are</tspan><tspan x="1191.5" dy="10.2">coming in on</tspan><tspan x="1191.5" dy="10.2">referral.</tspan></text></g>
<g id="friend2"><rect class="b" x="1244" y="489" width="83" height="83"/><text class="t" font-size="6.2" y="509.9"><tspan x="1285.5">patients typically have to</tspan><tspan x="1285.5" dy="7.6">have a specific person in</tspan><tspan x="1285.5" dy="7.6">mind, how do you farm</tspan><tspan x="1285.5" dy="7.6">that out? maybe</tspan><tspan x="1285.5" dy="7.6">questionaires, surveys,</tspan><tspan x="1285.5" dy="7.6">informal survey that gets</tspan><tspan x="1285.5" dy="7.6">sent out to them?</tspan></text></g>
<g id="friend3"><rect class="g" x="1150" y="583" width="83" height="83"/><text class="t" font-size="10.4" y="608.9"><tspan x="1191.5">people will call</tspan><tspan x="1191.5" dy="12.8">and say "oh my</tspan><tspan x="1191.5" dy="12.8">friend told me</tspan><tspan x="1191.5" dy="12.8">they go there"</tspan></text></g>
<g id="friend4"><rect class="b" x="1244" y="583" width="83" height="83"/><text class="t" font-size="7.2" y="604.8"><tspan x="1285.5">if you are already</tspan><tspan x="1285.5" dy="8.9">seeking a chiropractor</tspan><tspan x="1285.5" dy="8.9">asking for a</tspan><tspan x="1285.5" dy="8.9">recommendation can</tspan><tspan x="1285.5" dy="8.9">lead you directly to an</tspan><tspan x="1285.5" dy="8.9">office</tspan></text></g>

<!-- Email -->
<g id="email1"><rect class="v" x="1150" y="739" width="83" height="83"/><text class="t" font-size="9.8" y="759.7"><tspan x="1191.5">patients are</tspan><tspan x="1191.5" dy="12.1">getting way too</tspan><tspan x="1191.5" dy="12.1">many emails</tspan><tspan x="1191.5" dy="12.1">and things to fill</tspan><tspan x="1191.5" dy="12.1">out.</tspan></text></g>
<g id="email2"><rect class="v" x="1236" y="739" width="83" height="83"/><text class="t" font-size="8.1" y="758.3"><tspan x="1277.5">streamlining the</tspan><tspan x="1277.5" dy="10">amount of contact</tspan><tspan x="1277.5" dy="10">with each individual</tspan><tspan x="1277.5" dy="10">patient. picking</tspan><tspan x="1277.5" dy="10">priorities, picking</tspan><tspan x="1277.5" dy="10">response things.</tspan></text></g>
<g id="email3"><rect class="b" x="1150" y="827" width="83" height="83"/><text class="t" font-size="8.5" y="850.7"><tspan x="1191.5">send out specific</tspan><tspan x="1191.5" dy="10.4">surveys after 4th</tspan><tspan x="1191.5" dy="10.4">visit. setting up a</tspan><tspan x="1191.5" dy="10.4">separate survey to</tspan><tspan x="1191.5" dy="10.4">send to referrees.</tspan></text></g>

<!-- Tracking -->
<g id="track1"><rect class="b" x="1386" y="475" width="83" height="83"/><text class="t" font-size="7.5" y="496.1"><tspan x="1427.5">tracking doesn't</tspan><tspan x="1427.5" dy="9.2">seem that helpful</tspan><tspan x="1427.5" dy="9.2">unless you were to</tspan><tspan x="1427.5" dy="9.2">go back and talk to</tspan><tspan x="1427.5" dy="9.2">the patient to find out</tspan><tspan x="1427.5" dy="9.2">why the referred.</tspan></text></g>
<g id="track2"><rect class="p" x="1480" y="475" width="83" height="83"/><text class="t" font-size="7.4" y="496.4"><tspan x="1521.5">by putting it out</tspan><tspan x="1521.5" dy="9.1">there, there should at</tspan><tspan x="1521.5" dy="9.1">least be some</tspan><tspan x="1521.5" dy="9.1">awareness brought to</tspan><tspan x="1521.5" dy="9.1">it, but its never been</tspan><tspan x="1521.5" dy="9.1">tracked</tspan></text></g>
<g id="track3"><rect class="o" x="1386" y="569" width="83" height="83"/><text class="t" font-size="6.3" y="589.3"><tspan x="1427.5">they put into the system</tspan><tspan x="1427.5" dy="7.8">as new patients. when</tspan><tspan x="1427.5" dy="7.8">input a new patient they</tspan><tspan x="1427.5" dy="7.8">have to put down a</tspan><tspan x="1427.5" dy="7.8">marketing referral source.</tspan><tspan x="1427.5" dy="7.8">looking for a way to make</tspan><tspan x="1427.5" dy="7.8">it a little bit more specific.</tspan></text></g>
<g id="track4"><rect class="g" x="1480" y="569" width="83" height="83"/><text class="t" font-size="7.9" y="593.8"><tspan x="1521.5">theres no tracking.</tspan><tspan x="1521.5" dy="9.75">place on intake is</tspan><tspan x="1521.5" dy="9.75">filled out. not sure if</tspan><tspan x="1521.5" dy="9.75">anyone looks at</tspan><tspan x="1521.5" dy="9.75">statistical numbers.</tspan></text></g>
</svg>
